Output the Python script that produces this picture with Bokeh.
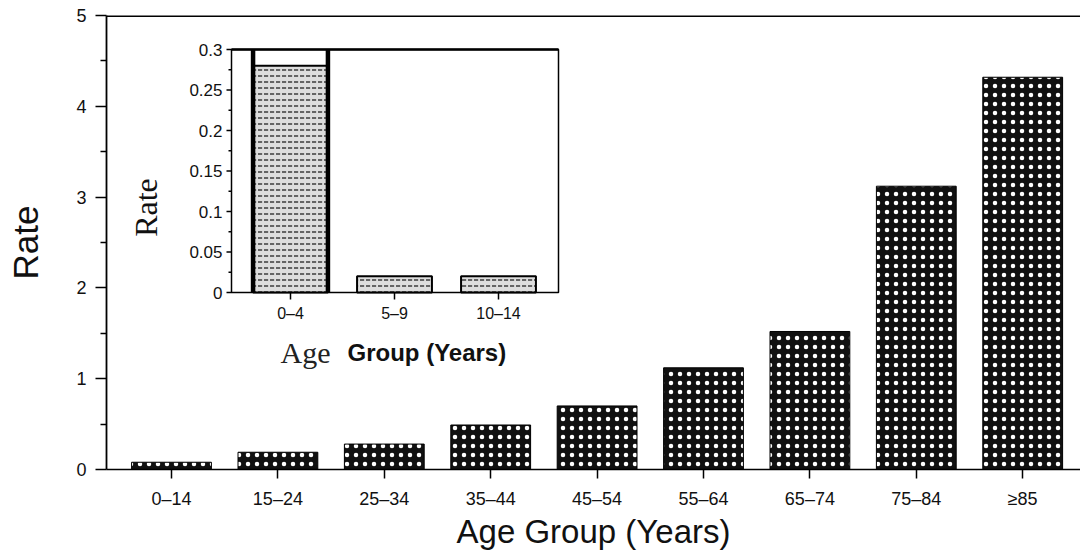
import math
from bokeh.plotting import figure
from bokeh.models import Range1d, FixedTicker, Span
from bokeh.core.properties import value
from bokeh.embed import file_html
from bokeh.resources import INLINE

# ---------------- data ----------------
age_groups = ["0–14", "15–24", "25–34", "35–44", "45–54", "55–64", "65–74", "75–84", "≥85"]
rates = [0.08, 0.19, 0.28, 0.49, 0.70, 1.12, 1.52, 3.12, 4.32]
y_ticks = [0, 1, 2, 3, 4, 5]

inset_groups = ["0–4", "5–9", "10–14"]
inset_rates = [0.28, 0.02, 0.02]
inset_ticks = [0, 0.05, 0.1, 0.15, 0.2, 0.25, 0.3]
inset_tick_labels = ["0", "0.05", "0.1", "0.15", "0.2", "0.25", "0.3"]

# ---------------- layout (figure pixels) ----------------
W, H = 1080, 553
FL, FR, FT, FB = 106, 1080, 15, 469         # main frame box
MX0, MSTEP = 171, 106.4                      # main category 0 centre, spacing
# inset box and scale
IL, IR, IT, IB = 231, 558, 49, 292
IX0, ISTEP = 290, 104
IYSCALE = (IB - IT) / inset_ticks[-1]

x_start = (FL - MX0) / MSTEP
x_end = (FR - MX0) / MSTEP

ix_start = (FL - IX0) / ISTEP
ix_end = (FR - IX0) / ISTEP
iy_start = -(FB - IB) / IYSCALE
iy_end = (IB - FT) / IYSCALE
inset_left = (IL - IX0) / ISTEP
inset_right = (IR - IX0) / ISTEP

SANS = "Liberation Sans"
SERIF = "Liberation Serif"

p = figure(width=W, height=H, output_backend="svg", toolbar_location=None,
           x_range=Range1d(x_start, x_end), y_range=Range1d(y_ticks[0], y_ticks[-1]),
           min_border_left=FL, min_border_right=0, min_border_top=FT,
           min_border_bottom=H - FB)
p.outline_line_color = None
p.grid.visible = False
p.background_fill_color = "white"
p.border_fill_color = "white"

xs = list(range(len(age_groups)))
p.vbar(x=xs, top=rates, bottom=0, width=0.75,
       fill_color="#111111", line_color="black", line_width=1,
       hatch_pattern="dot", hatch_color="white", hatch_scale=9, hatch_weight=2)

p.add_layout(Span(location=y_ticks[-1], dimension="width", line_color="black", line_width=3))

# main x axis
xa = p.xaxis[0]
xa.ticker = FixedTicker(ticks=xs)
xa.major_label_overrides = {i: g for i, g in enumerate(age_groups)}
xa.axis_label = "Age Group (Years)"
xa.axis_label_text_font = SANS
xa.axis_label_text_font_style = "normal"
xa.axis_label_text_font_size = "33px"
xa.axis_label_text_color = "#111"
xa.axis_label_standoff = 1
xa.major_label_text_font = SANS
xa.major_label_text_font_size = "18px"
xa.major_label_text_color = "#111"
xa.major_label_standoff = 10
xa.major_tick_in = 0
xa.major_tick_out = 9
xa.major_tick_line_width = 1.5
xa.minor_tick_line_color = None
xa.axis_line_width = 1.5

# main y axis
ya = p.yaxis[0]
ya.ticker = FixedTicker(ticks=y_ticks, minor_ticks=[t + 0.5 for t in y_ticks[:-1]])
ya.axis_label = "Rate"
ya.axis_label_text_font = SANS
ya.axis_label_text_font_style = "normal"
ya.axis_label_text_font_size = "35px"
ya.axis_label_text_color = "#111"
ya.axis_label_standoff = 28
ya.major_label_text_font = SANS
ya.major_label_text_font_size = "18px"
ya.major_label_text_color = "#111"
ya.major_label_standoff = 9
ya.major_tick_in = 0
ya.major_tick_out = 11
ya.minor_tick_in = 0
ya.minor_tick_out = 6
ya.major_tick_line_width = 1.5
ya.minor_tick_line_width = 1.5
ya.axis_line_width = 1.8

# ---------------- inset ----------------
p.extra_x_ranges = {"ix": Range1d(ix_start, ix_end)}
p.extra_y_ranges = {"iy": Range1d(iy_start, iy_end)}
R = dict(x_range_name="ix", y_range_name="iy")

p.quad(left=[inset_left], right=[inset_right], bottom=[inset_ticks[0]], top=[inset_ticks[-1]],
       fill_color="white", line_color="black", line_width=1.5, **R)
p.segment(x0=[inset_left], x1=[inset_right], y0=[inset_ticks[-1]], y1=[inset_ticks[-1]],
          line_color="black", line_width=2.5, **R)

ixs = list(range(len(inset_groups)))
IW = 0.72
p.vbar(x=ixs, top=inset_rates, bottom=0, width=IW,
       fill_color="#dddddd", line_color="black", line_width=2,
       hatch_pattern="horizontal_dash", hatch_color="#222222", hatch_scale=6, hatch_weight=1.3, **R)
# heavy side strokes on the first inset bar
p.segment(x0=[ixs[0] - IW / 2, ixs[0] + IW / 2], x1=[ixs[0] - IW / 2, ixs[0] + IW / 2],
          y0=[0, 0], y1=[inset_ticks[-1]] * 2, line_color="black", line_width=4.5, **R)

# inset y ticks / labels
p.ray(x=[inset_left] * len(inset_ticks), y=inset_ticks, length=5, length_units="screen",
      angle=math.pi, line_color="black", line_width=1.5, **R)
minor = [(a + b) / 2 for a, b in zip(inset_ticks[:-1], inset_ticks[1:])]
p.ray(x=[inset_left] * len(minor), y=minor, length=3, length_units="screen",
      angle=math.pi, line_color="black", line_width=1.5, **R)
p.text(x=[inset_left] * len(inset_ticks), y=inset_ticks, text=inset_tick_labels,
       x_offset=-9, text_align="right", text_baseline="middle",
       text_font=value(SANS), text_font_size="17px", text_color="#111", **R)

# inset x ticks / labels
p.ray(x=ixs, y=[0] * len(ixs), length=7, length_units="screen", angle=-math.pi / 2,
      line_color="black", line_width=1.5, **R)
p.text(x=ixs, y=[0] * len(ixs), text=inset_groups, y_offset=12,
       text_align="center", text_baseline="top",
       text_font=value(SANS), text_font_size="16px", text_color="#111", **R)

# inset axis titles
p.text(x=[ixs[0]], y=[0], text=["Age"], x_offset=-10, y_offset=60,
       text_align="left", text_baseline="alphabetic",
       text_font=value(SERIF), text_font_size="30px", text_color="#222", **R)
p.text(x=[ixs[0]], y=[0], text=["Group (Years)"], x_offset=57, y_offset=60,
       text_align="left", text_baseline="alphabetic",
       text_font=value(SANS), text_font_style="bold", text_font_size="24px", text_color="#111", **R)
p.text(x=[inset_left], y=[0], text=["Rate"], x_offset=-86, y_offset=-85, angle=math.pi / 2,
       text_align="center", text_baseline="middle",
       text_font=value(SERIF), text_font_size="32px", text_color="#111", **R)

open("out.html", "w").write(file_html(p, INLINE))
